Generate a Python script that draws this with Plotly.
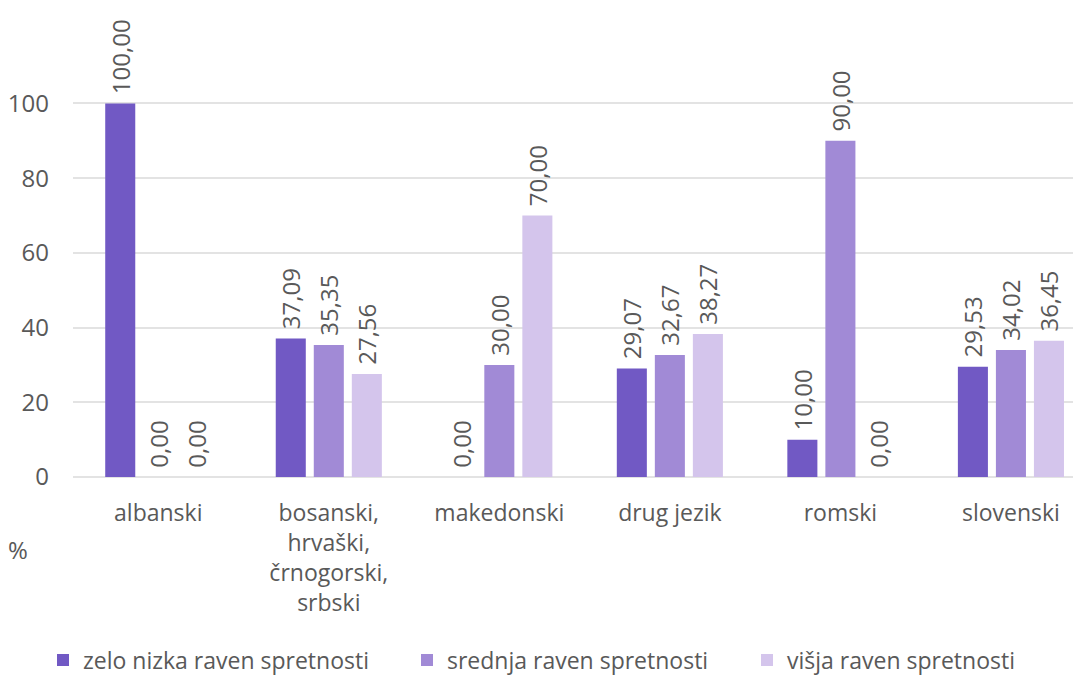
import plotly.graph_objects as go

categories = ["albanski", "bosanski,<br>hrvaški,<br>črnogorski,<br>srbski", "makedonski",
              "drug jezik", "romski", "slovenski"]
series_names = ["zelo nizka raven spretnosti", "srednja raven spretnosti", "višja raven spretnosti"]
zelo_nizka = [100.00, 37.09, 0.00, 29.07, 10.00, 29.53]
srednja = [0.00, 35.35, 30.00, 32.67, 90.00, 34.02]
visja = [0.00, 27.56, 70.00, 38.27, 0.00, 36.45]
colors = ["#7159C4", "#A18AD6", "#D4C5EC"]

font_family = "Open Sans"
text_color = "#595959"
fs = 24
fs_axis = 23
fs_legend = 23

# one legend per series so each entry can be placed on its own
legend_ids = ["legend", "legend2", "legend3"]
legend_x = [-0.03, 0.334, 0.674]


def fmt(v):
    # decimal comma; the leading no-break space keeps the label clear of the bar top
    return "\u00a0" + f"{v:.2f}".replace(".", ",")


fig = go.Figure()
for name, vals, col, lid in zip(series_names, [zelo_nizka, srednja, visja], colors, legend_ids):
    fig.add_trace(go.Bar(
        x=categories, y=vals, name=name, marker_color=col, marker_line_width=0,
        text=[fmt(v) for v in vals],
        textposition="outside", textangle=-90, constraintext="none",
        textfont=dict(family=font_family, size=fs, color=text_color),
        cliponaxis=False, legend=lid,
    ))

legend_common = dict(orientation="h", y=-0.392, yanchor="middle", xanchor="left",
                     font=dict(family=font_family, size=fs_legend, color=text_color),
                     bgcolor="rgba(0,0,0,0)", itemwidth=30)

fig.update_layout(
    width=1086, height=678,
    margin=dict(l=73, r=13, t=10, b=201, autoexpand=False),
    paper_bgcolor="white", plot_bgcolor="white",
    barmode="group", bargap=0.331, bargroupgap=0.21,
    font=dict(family=font_family, size=fs, color=text_color),
    showlegend=True,
    legend=dict(x=legend_x[0], **legend_common),
    legend2=dict(x=legend_x[1], **legend_common),
    legend3=dict(x=legend_x[2], **legend_common),
    xaxis=dict(range=[-0.5, 5.364], showgrid=False, showline=False, ticks="",
               ticklabelstandoff=20, tickfont=dict(size=fs_axis, color=text_color)),
    yaxis=dict(range=[0, 125], tickvals=[0, 20, 40, 60, 80, 100], showgrid=True,
               gridcolor="#E3E3E3", gridwidth=1.5, zeroline=True, zerolinecolor="#E3E3E3",
               zerolinewidth=1.5, showline=False, ticks="", ticklabelstandoff=23,
               tickfont=dict(size=fs, color=text_color)),
    annotations=[dict(text="%", xref="paper", yref="paper", x=-0.055, y=-0.156,
                      xanchor="center", yanchor="middle", showarrow=False,
                      font=dict(size=fs, color=text_color))],
)

fig.write_html("out.html")
